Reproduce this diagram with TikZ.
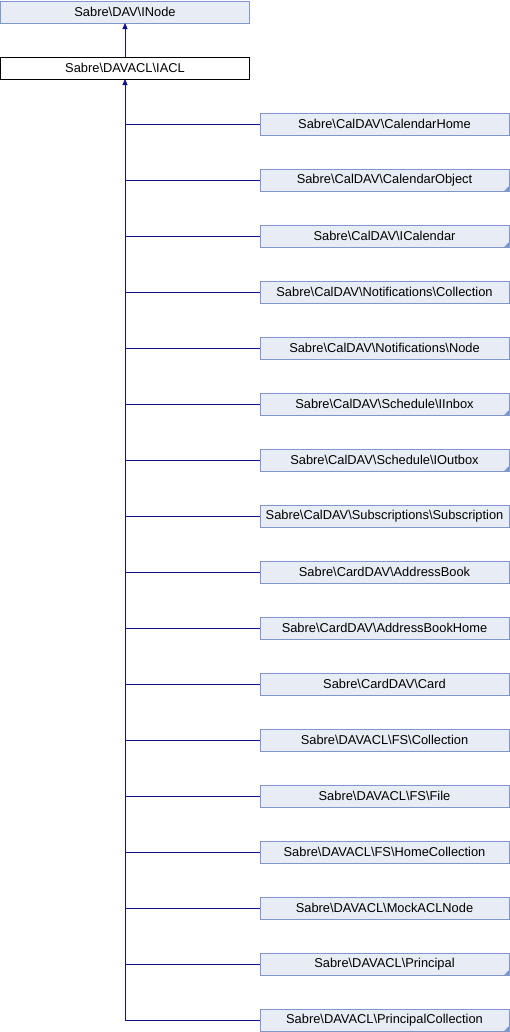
\documentclass[tikz,border=0pt]{standalone}
\usepackage{fontspec}
\setmainfont{Liberation Sans}
\usetikzlibrary{arrows.meta}
\definecolor{boxfill}{HTML}{E8ECF5}
\definecolor{boxline}{HTML}{7F98CB}
\definecolor{edgeblue}{HTML}{12128A}
\begin{document}
\begin{tikzpicture}[x=1bp,y=-1bp,
  every node/.style={font=\fontsize{12.9}{14}\selectfont, inner sep=0pt, outer sep=0pt},
  classbox/.style={draw=boxline, fill=boxfill, line width=0.8bp, minimum width=249bp, minimum height=22bp},
  curbox/.style={draw=black, fill=white, line width=0.8bp, minimum width=249bp, minimum height=22bp},
  inherit/.style={draw=edgeblue, line width=0.8bp, -{Triangle[width=5bp,length=6bp]}},
  folded/.style={path picture={\fill[boxline] (path picture bounding box.south east) -- ++(-5bp,0) -- ++(5bp,5bp) -- cycle;}}
]
\useasboundingbox (0,0) rectangle (510,1032);

% base interfaces
\node[classbox] (inode) at (125,12) {Sabre\textbackslash DAV\textbackslash INode};
\node[curbox] (iacl) at (125,68) {Sabre\textbackslash DAVACL\textbackslash IACL};
\draw[inherit] (iacl) -- (inode);

% implementing classes
\foreach \name/\label/\fold [count=\i from 0] in {
  c0/Sabre\textbackslash CalDAV\textbackslash CalendarHome/0,
  c1/Sabre\textbackslash CalDAV\textbackslash CalendarObject/1,
  c2/Sabre\textbackslash CalDAV\textbackslash ICalendar/1,
  c3/Sabre\textbackslash CalDAV\textbackslash Notifications\textbackslash Collection/0,
  c4/Sabre\textbackslash CalDAV\textbackslash Notifications\textbackslash Node/0,
  c5/Sabre\textbackslash CalDAV\textbackslash Schedule\textbackslash IInbox/1,
  c6/Sabre\textbackslash CalDAV\textbackslash Schedule\textbackslash IOutbox/1,
  c7/Sabre\textbackslash CalDAV\textbackslash Subscriptions\textbackslash Subscription/0,
  c8/Sabre\textbackslash CardDAV\textbackslash AddressBook/0,
  c9/Sabre\textbackslash CardDAV\textbackslash AddressBookHome/0,
  c10/Sabre\textbackslash CardDAV\textbackslash Card/0,
  c11/Sabre\textbackslash DAVACL\textbackslash FS\textbackslash Collection/0,
  c12/Sabre\textbackslash DAVACL\textbackslash FS\textbackslash File/0,
  c13/Sabre\textbackslash DAVACL\textbackslash FS\textbackslash HomeCollection/0,
  c14/Sabre\textbackslash DAVACL\textbackslash MockACLNode/0,
  c15/Sabre\textbackslash DAVACL\textbackslash Principal/1,
  c16/Sabre\textbackslash DAVACL\textbackslash PrincipalCollection/1} {
  \ifnum\fold=1
    \node[classbox, folded] (\name) at (384.5,{124+56*\i}) {\label};
  \else
    \node[classbox] (\name) at (384.5,{124+56*\i}) {\label};
  \fi
  \draw[edgeblue, line width=0.8bp] (\name.west) -- (125,{124+56*\i});
}

% shared trunk up to the interface
\coordinate (trunk) at (125,1020);
\draw[inherit] (trunk) -- (iacl.south);
\end{tikzpicture}
\end{document}
